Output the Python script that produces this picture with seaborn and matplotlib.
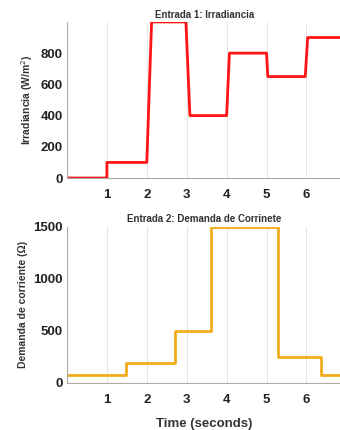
import matplotlib
matplotlib.use("Agg")
import matplotlib.pyplot as plt
import seaborn as sns
import pandas as pd

# Entrada 1: irradiance breakpoints
irr_t = [0, 1.0, 1.0, 2.0, 2.12, 2.98, 3.08, 4.0, 4.07, 5.0, 5.03, 5.97, 6.03, 6.95]
irr_v = [0, 0, 100, 100, 1000, 1000, 400, 400, 800, 800, 650, 650, 900, 900]

# Entrada 2: current demand steps
dem_t = [0, 1.47, 2.7, 3.6, 5.29, 6.37, 6.95]
dem_v = [75, 190, 500, 1500, 250, 75, 75]

x_ticks = [1, 2, 3, 4, 5, 6]
irr_ticks = [0, 200, 400, 600, 800]
dem_ticks = [0, 500, 1000, 1500]

sns.set_style("white")
plt.rcParams['font.family'] = ['Liberation Sans', 'DejaVu Sans']

fig = plt.figure(figsize=(3.4, 4.3), dpi=100)
ax1 = fig.add_axes([0.197, 0.586, 0.81, 0.363])
ax2 = fig.add_axes([0.197, 0.110, 0.81, 0.363])

df1 = pd.DataFrame({"t": irr_t, "v": irr_v})
df2 = pd.DataFrame({"t": dem_t, "v": dem_v})

sns.lineplot(data=df1, x="t", y="v", ax=ax1, color="#ff1414", lw=2.0,
             sort=False, estimator=None)
sns.lineplot(data=df2, x="t", y="v", ax=ax2, color="#f2ac1c", lw=2.0,
             sort=False, estimator=None, drawstyle="steps-post")

for ax, yt, ylim, title, ylab in [
    (ax1, irr_ticks, (0, 1000), "Entrada 1: Irradiancia", "Irradiancia (W/m$^2$)"),
    (ax2, dem_ticks, (0, 1500), "Entrada 2: Demanda de Corrinete", "Demanda de corriente (Ω)"),
]:
    ax.set_xlim(0, 6.9)
    ax.set_ylim(*ylim)
    ax.set_xticks(x_ticks)
    ax.set_yticks(yt)
    ax.set_xticklabels([str(t) for t in x_ticks], fontsize=9.5, fontweight="bold", color="#222222")
    ax.set_yticklabels([str(t) for t in yt], fontsize=9.5, fontweight="bold", color="#222222")
    ax.grid(axis="x", color="#e6e6e6", lw=0.7)
    ax.grid(axis="y", visible=False)
    for s in ["top", "right"]:
        ax.spines[s].set_visible(False)
    for s in ["left", "bottom"]:
        ax.spines[s].set_color("#aaaaaa")
        ax.spines[s].set_linewidth(0.8)
    ax.tick_params(axis="both", length=2, width=0.6, color="#aaaaaa", direction="in", pad=3)
    ax.tick_params(axis="x", pad=8)
    ax.set_title(title, fontsize=7, fontweight="bold", color="#333333", pad=3)
    ax.set_ylabel(ylab, fontsize=7.5, fontweight="bold", color="#333333", labelpad=4)
    ax.set_xlabel("")

ax2.set_xlabel("Time (seconds)", fontsize=9.5, fontweight="bold", color="#333333", labelpad=9)

fig.savefig("out.png", dpi=100)
